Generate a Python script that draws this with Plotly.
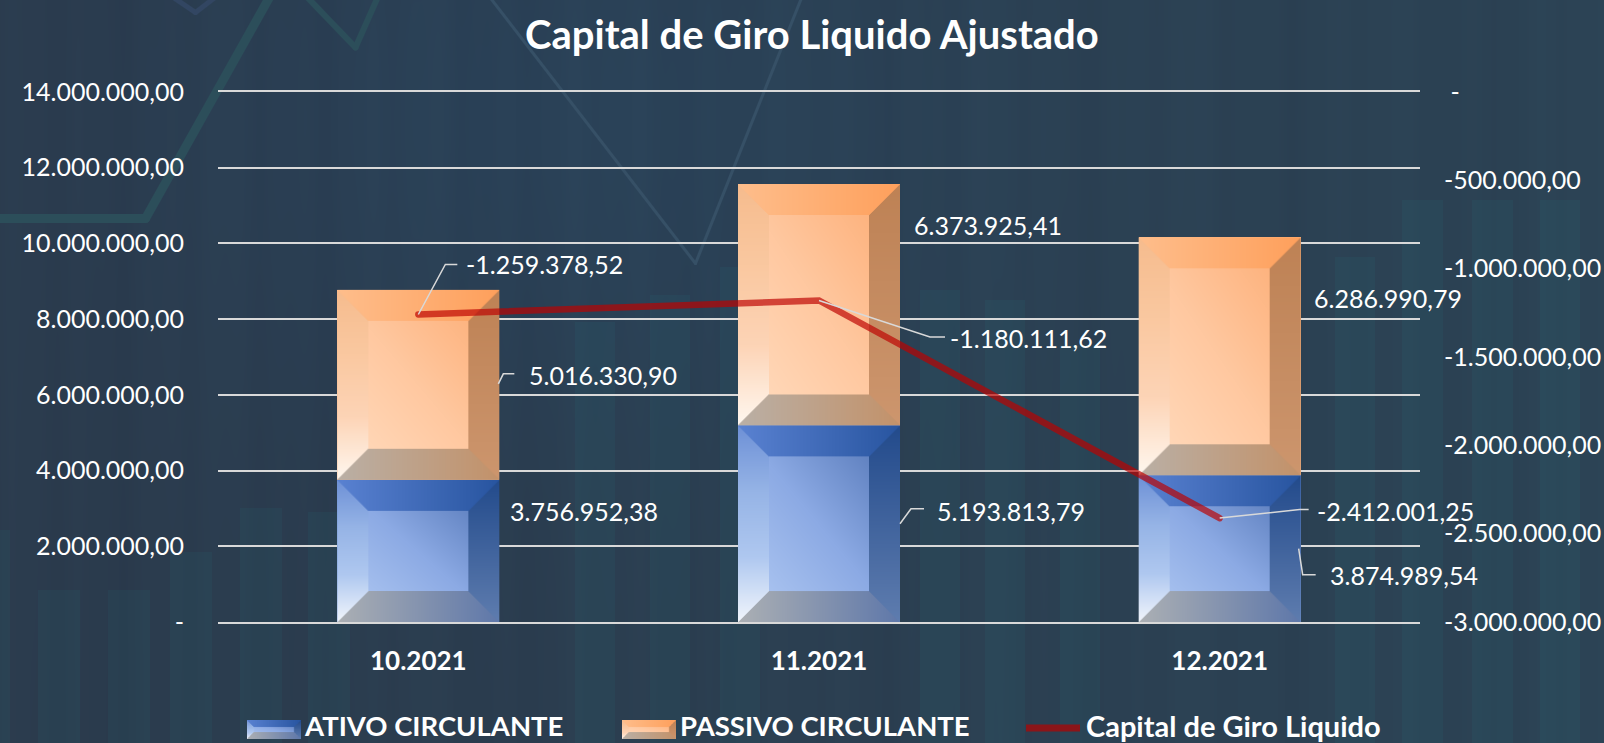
import base64, struct, zlib
import numpy as np
import plotly.graph_objects as go

categories = ["10.2021", "11.2021", "12.2021"]
ativo = [3756952.38, 5193813.79, 3874989.54]
passivo = [5016330.90, 6373925.41, 6286990.79]
capital = [-1259378.52, -1180111.62, -2412001.25]
left_ticks = [0, 2e6, 4e6, 6e6, 8e6, 10e6, 12e6, 14e6]
right_ticks = [0, -5e5, -1e6, -1.5e6, -2e6, -2.5e6, -3e6]

W, H = 1604, 743
L, R, T, B = 218, 1420, 92, 622
PW, PH = R - L, B - T
FONT = "Lato"
BAR_PX = 162
LABEL_SIZE = 25


def fmt(v):
    return f"{v:,.2f}".replace(",", "#").replace(".", ",").replace("#", ".")


def png_uri(a):
    a = np.clip(a, 0, 255).astype(np.uint8)
    h, w, _ = a.shape
    raw = b"".join(b"\x00" + a[i].tobytes() for i in range(h))
    def chunk(t, d):
        return struct.pack(">I", len(d)) + t + d + struct.pack(">I", zlib.crc32(t + d) & 0xffffffff)
    data = b"\x89PNG\r\n\x1a\n" + chunk(b"IHDR", struct.pack(">IIBBBBB", w, h, 8, 2, 0, 0, 0)) + chunk(b"IDAT", zlib.compress(raw, 6)) + chunk(b"IEND", b"")
    return "data:image/png;base64," + base64.b64encode(data).decode()


def ramp(t, stops):
    t = np.clip(t, 0, 1)[..., None]
    xs = np.linspace(0, 1, len(stops))
    s = np.array(stops, float)
    return np.stack([np.interp(t[..., 0], xs, s[:, k]) for k in range(3)], -1)


ORANGE = dict(c=[(255, 222, 194), (255, 200, 160), (253, 170, 112)],
              l=[(246, 188, 142), (250, 200, 160), (253, 212, 182), (255, 248, 240)],
              t=[(255, 190, 140), (254, 160, 92)],
              r=[(190, 130, 85), (205, 150, 110)],
              b=[(186, 176, 166), (195, 146, 106)])
BLUE = dict(c=[(182, 206, 245), (140, 170, 228), (75, 110, 175)],
            l=[(110, 145, 215), (150, 180, 230), (175, 200, 240), (242, 246, 252)],
            t=[(90, 130, 210), (40, 85, 160)],
            r=[(35, 75, 140), (95, 125, 175)],
            b=[(172, 176, 180), (95, 120, 170)])


def bevel(w, h, pal, bev, scale=2):
    ww, hh = int(w * scale), max(2, int(round(h * scale)))
    yy, xx = np.mgrid[0:hh, 0:ww]
    x, y = (xx + .5) / scale, (yy + .5) / scale
    u, v = x / w, y / h
    dl, dr, dt, db = x, w - x, y, h - y
    out = ramp((u + (1 - v)) / 2, pal["c"])
    m = np.minimum(np.minimum(dl, dr), np.minimum(dt, db))
    edge = m < bev
    for key, d, t in (("l", dl, v), ("r", dr, v), ("t", dt, u), ("b", db, u)):
        mask = edge & (d == m)
        out[mask] = ramp(t, pal[key])[mask]
    return png_uri(out)


def background():
    yy, xx = np.mgrid[0:H, 0:W].astype(float)
    a = np.zeros((H, W, 3))
    u = xx / W
    a[..., 0] = 43 + 1 * u
    a[..., 1] = 59 + 8 * u
    a[..., 2] = 77 + 8 * u
    band = .8 * np.sin(xx / 11.0) + .8 * np.sin(xx / 31.0 + 1) + .4 * np.sin(xx / 5.3)
    a += band[..., None] * np.array([.6, 1, 1])
    glow = np.exp(-((xx - 560) / 420) ** 2) * np.exp(-((yy - 120) / 300) ** 2)
    a += glow[..., None] * np.array([-1, 4, 8])
    for x0, x1, top in [(0, 10, 530), (38, 80, 590), (108, 150, 590), (170, 212, 552), (240, 282, 508),
                        (308, 350, 512), (575, 615, 322), (650, 690, 295), (720, 760, 267), (920, 960, 290),
                        (985, 1025, 300), (1060, 1100, 345), (1335, 1375, 257), (1402, 1443, 200),
                        (1472, 1513, 200), (1540, 1580, 200)]:
        m = (xx >= x0) & (xx < x1) & (yy >= top)
        a[m] = a[m] + np.array([-1, 6, 5])

    def poly(pts, width, col):
        for (x0, y0), (x1, y1) in zip(pts[:-1], pts[1:]):
            dx, dy = x1 - x0, y1 - y0
            t = np.clip(((xx - x0) * dx + (yy - y0) * dy) / (dx * dx + dy * dy), 0, 1)
            d = np.hypot(xx - x0 - t * dx, yy - y0 - t * dy)
            al = np.clip(width / 2 + .5 - d, 0, 1)[..., None]
            a[:] = a * (1 - al) + np.array(col, float) * al
    poly([(-5, 218), (145, 218), (270, -5)], 9, (44, 78, 90))
    poly([(305, -5), (355, 47), (378, -5)], 6, (44, 78, 90))
    poly([(170, -5), (195, 12), (217, -5)], 5, (50, 70, 98))
    poly([(488, -5), (695, 263), (802, -5)], 3, (54, 80, 102))
    return png_uri(a)


fig = go.Figure()
fig.add_bar(name="ATIVO CIRCULANTE", x=categories, y=ativo, marker_color="#6F93D6", marker_line_width=0,
            xaxis="x", yaxis="y", hoverinfo="skip")
fig.add_bar(name="PASSIVO CIRCULANTE", x=categories, y=passivo, marker_color="#FFB985", marker_line_width=0,
            xaxis="x", yaxis="y", hoverinfo="skip")
totals = [a + p for a, p in zip(ativo, passivo)]
fig.add_scatter(x=categories, y=totals, mode="markers", marker=dict(opacity=0), showlegend=False,
                xaxis="x2", yaxis="y2", hoverinfo="skip")
fig.add_scatter(name="Capital de Giro Liquido", x=categories, y=capital, mode="lines",
                line=dict(color="rgba(188,2,0,0.68)", width=6.5), xaxis="x3", yaxis="y3", hoverinfo="skip")

images = [dict(source=background(), xref="paper", yref="paper", x=-L / PW, y=(B / PH), sizex=W / PW, sizey=H / PH,
               xanchor="left", yanchor="top", sizing="stretch", layer="below")]
bar_frac = BAR_PX / (PW / 3)
for i in range(3):
    for base, val, pal in ((0, ativo[i], BLUE), (ativo[i], passivo[i], ORANGE)):
        images.append(dict(source=bevel(BAR_PX, val / 14e6 * PH, pal, 31), xref="x2", yref="y2",
                           x=i - bar_frac / 2, y=base + val, sizex=bar_frac, sizey=val,
                           xanchor="left", yanchor="top", sizing="stretch", layer="below"))

def px(x):
    return (x - L) / PW
def py(y):
    return (B - y) / PH

annotations = []
shapes = []

def label(i, value, anchor, xr, yr, dx, up, path=None):
    annotations.append(dict(x=i, y=anchor, xref=xr, yref=yr, text=fmt(value), showarrow=False,
                            xanchor="left", yanchor="middle", xshift=dx - 2, yshift=up + 1,
                            font=dict(family=FONT, size=LABEL_SIZE, color="white")))
    if path:
        p = "M" + " L".join(f"{a},{b}" for a, b in path)
        shapes.append(dict(type="path", xref=xr, yref=yr, xsizemode="pixel", ysizemode="pixel",
                           xanchor=i, yanchor=anchor, path=p, line=dict(color="#D9D9D9", width=1.5), layer="above"))

label(0, ativo[0], ativo[0] / 2, "x", "y", 92, 39)
label(1, ativo[1], ativo[1] / 2, "x", "y", 118, 12, [(81, 0), (92, 15), (105, 15)])
label(2, ativo[2], ativo[2] / 2, "x", "y", 110, -27, [(79, 0), (83, -26), (96, -26)])
label(0, passivo[0], ativo[0] + passivo[0] / 2, "x", "y", 111, 9, [(80, 1), (85, 11), (96, 11)])
label(1, passivo[1], ativo[1] + passivo[1] / 2, "x", "y", 95, 79)
label(2, passivo[2], ativo[2] + passivo[2] / 2, "x", "y", 94, 57)
label(0, capital[0], capital[0], "x3", "y3", 48, 49.5, [(0, 0), (27, 50), (39, 50)])
label(1, capital[1], capital[1], "x3", "y3", 131, -38.5, [(0, 0), (111, -36.5), (126, -36.5)])
label(2, capital[2], capital[2], "x3", "y3", 97, 6, [(0, 0), (80, 8.5), (89, 8.5)])

for txt, xp, sz in (("ATIVO CIRCULANTE", 302, 27.5), ("PASSIVO CIRCULANTE", 678, 27.5), ("Capital de Giro Liquido", 1084, 29)):
    annotations.append(dict(x=px(xp), y=py(725), xref="paper", yref="paper", text=txt, showarrow=False,
                            xanchor="left", yanchor="middle", font=dict(family=FONT, size=sz, color="white", weight=700)))
for pal, xp in ((BLUE, 247), (ORANGE, 622)):
    images.append(dict(source=bevel(54, 19, pal, 7, 3), xref="paper", yref="paper", x=px(xp), y=py(720),
                       sizex=54 / PW, sizey=19 / PH, xanchor="left", yanchor="top", sizing="stretch", layer="above"))
shapes.append(dict(type="line", xref="paper", yref="paper", x0=px(1026), x1=px(1080), y0=py(728), y1=py(728),
                   line=dict(color="#8B1519", width=7), layer="above"))

annotations.append(dict(x=px(812), y=py(34), xref="paper", yref="paper", text="Capital de Giro Liquido Ajustado",
                        showarrow=False, xanchor="center", yanchor="middle",
                        font=dict(family=FONT, size=40, color="white", weight=700)))

common_x = dict(type="category", categoryarray=categories, categoryorder="array", range=[-.5, 2.5], domain=[0, 1],
                automargin=False)
fig.update_layout(
    width=W, height=H, autosize=False,
    margin=dict(l=L, r=W - R, t=T, b=H - B, pad=0, autoexpand=False),
    paper_bgcolor="#2B3B4D", plot_bgcolor="rgba(0,0,0,0)",
    barmode="stack", bargap=1 - bar_frac, showlegend=False,
    font=dict(family=FONT, color="white"),
    images=images, annotations=annotations, shapes=shapes,
    xaxis=dict(**common_x, anchor="y", showgrid=False, showline=True, mirror=True, linecolor="#D9D9D9", linewidth=2, ticks="",
               ticklabelstandoff=15, tickfont=dict(family=FONT, size=26, color="white", weight=700)),
    yaxis=dict(anchor="x", range=[0, 14e6], domain=[0, 1], tickvals=left_ticks, automargin=False,
               ticktext=[fmt(v) if v else "-" for v in left_ticks], showgrid=True, gridcolor="#D9D9D9",
               gridwidth=2, zeroline=False, ticks="", ticklabelstandoff=33, showline=False,
               tickfont=dict(family=FONT, size=LABEL_SIZE, color="white")),
    xaxis2=dict(**common_x, anchor="y2", visible=False),
    yaxis2=dict(anchor="x2", range=[0, 14e6], domain=[0, 1], visible=False, automargin=False),
    xaxis3=dict(**common_x, anchor="y3", visible=False),
    yaxis3=dict(anchor="x3", side="right", range=[-3e6, 0], domain=[0, 1], tickvals=right_ticks, automargin=False,
                ticktext=[fmt(v) if v else "\u00a0-" for v in right_ticks], showgrid=False, zeroline=False,
                ticks="", ticklabelstandoff=23, showline=False,
                tickfont=dict(family=FONT, size=LABEL_SIZE, color="white")),
)

fig.write_html("out.html", config=dict(displayModeBar=False),
               post_script="document.body.style.margin='0';document.documentElement.style.overflow='hidden';"
                           "document.querySelectorAll('.scatterlayer .js-line').forEach(function(l){l.style.strokeLinecap='round';});")
